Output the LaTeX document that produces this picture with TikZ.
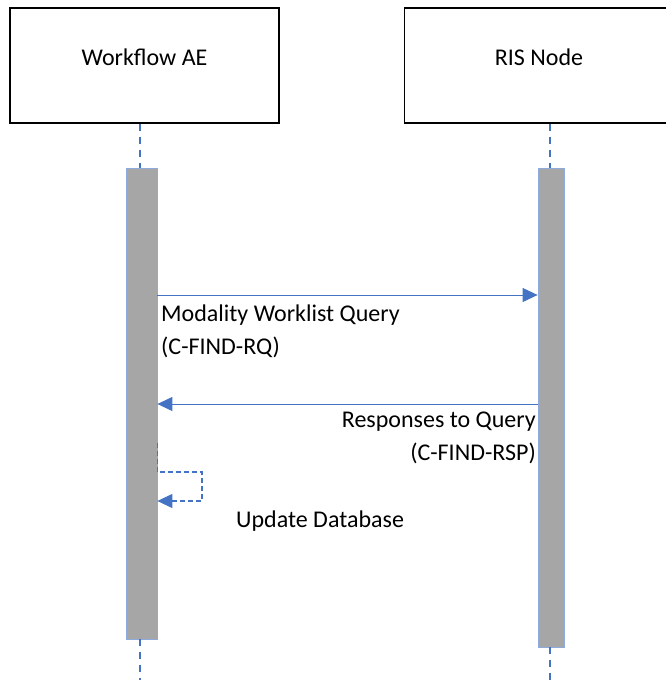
\documentclass[tikz,border=0pt]{standalone}
\usepackage{fontspec}
\setmainfont{Carlito}
\usepackage{tikz}
\usetikzlibrary{arrows.meta}

\definecolor{seqblue}{HTML}{4472C4}
\definecolor{barblue}{HTML}{8FAADC}
\definecolor{bargray}{HTML}{A6A6A6}

\begin{document}
\begin{tikzpicture}[x=1pt,y=-1pt,cap=round,
  font=\fontsize{24}{33}\selectfont,
  head/.style={draw=black,line width=1.5pt,minimum width=269pt,minimum height=115pt,
    inner sep=0pt,text height=17pt,text depth=18pt},
  actbar/.style={draw=barblue,fill=bargray,line width=0.8pt,inner sep=0pt},
  life/.style={seqblue,line width=2pt,dash pattern=on 7pt off 6pt,line cap=butt},
  msg/.style={seqblue,line width=1pt,-{Triangle[length=15pt,width=14pt]}},
  selfmsg/.style={seqblue,line width=1.2pt,dash pattern=on 5pt off 3pt,line cap=butt,
    -{Triangle[length=15pt,width=14pt]}},
  lbl/.style={inner sep=0pt}]

\useasboundingbox (0,0) rectangle (665,680);

\node[head] (wf) at (144.5, 65.5) {Workflow AE};
\node[head] (ris) at (539, 65.5) {RIS Node};

\node[actbar, minimum width=31pt, minimum height=471pt] (wfbar) at (141.5, 403.5) {};
\node[actbar, minimum width=26pt, minimum height=479pt] (risbar) at (551, 407.5) {};

\coordinate (bottom) at (0, 680);
\coordinate (wfline) at (140, 0);
\coordinate (risline) at (550, 0);
\draw[life] (wfline |- wf.south) -- (wfline |- wfbar.north);
\draw[life] (risline |- ris.south) -- (risline |- risbar.north);
\draw[life] (wfline |- wfbar.south) -- (wfline |- bottom);
\draw[life] (risline |- risbar.south) -- (risline |- bottom);

\coordinate (query) at (0, 295);
\draw[msg] (wfbar.east |- query) -- (risbar.west |- query);
\node[lbl, anchor=north west, align=left] (querytxt) at (161, 305)
  {Modality Worklist Query\\(C-FIND-RQ)};

\coordinate (resp) at (0, 404);
\draw[msg] (risbar.west |- resp) -- (wfbar.east |- resp);
\node[lbl, anchor=north east, align=right] (resptxt) at (536, 412)
  {Responses to Query\\(C-FIND-RSP)};

\coordinate (upd0) at (0, 443);
\coordinate (upd1) at (202, 472);
\coordinate (upd2) at (202, 501);
\draw[selfmsg] (wfbar.east |- upd0) -- (wfbar.east |- upd1) -- (upd1) -- (upd2)
  -- (wfbar.east |- upd2);
\node[lbl, anchor=base west] (updtxt) at (236, 527) {Update Database};

\end{tikzpicture}
\end{document}
